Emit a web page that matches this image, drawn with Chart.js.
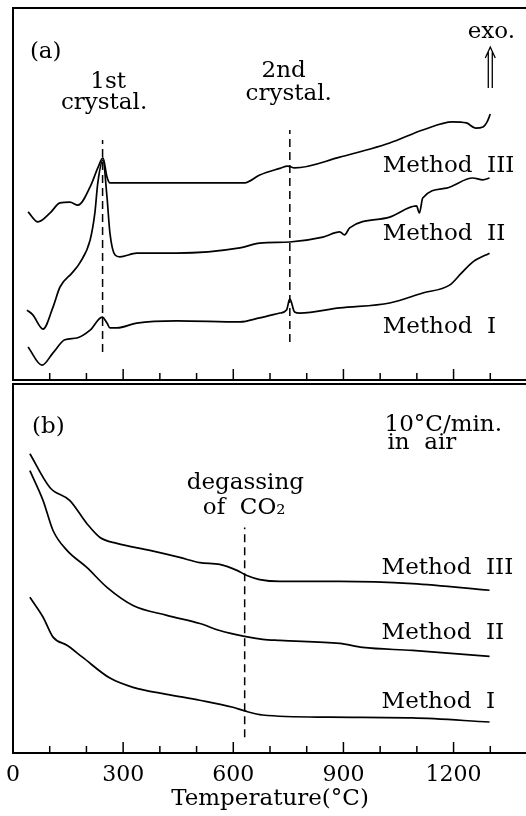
<!DOCTYPE html>
<html>
<head>
<meta charset="utf-8">
<script src="https://cdn.jsdelivr.net/npm/chart.js@4.4.0/dist/chart.umd.min.js"></script>
<style>
  html, body { margin: 0; padding: 0; background: #fff; overflow: hidden; }
  #panelA { position: absolute; left: 0; top: 0; width: 528px; height: 383px; }
  #panelB { position: absolute; left: 0; top: 383px; width: 528px; height: 433px; }
</style>
</head>
<body>
<div id="panelA"><canvas id="chartA"></canvas></div>
<div id="panelB"><canvas id="chartB"></canvas></div>
<script>
/* -------------------- DATA -------------------- */
// x axis (temperature, °C)
const tempMin = 0;
const tempMax = 1400;
const tempTicks = [0, 300, 600, 900, 1200];

// (a) DTA curves, arbitrary units
const dtaTemp3 = [41, 68, 101, 128, 155, 177, 210, 231, 245, 256, 264, 446, 631, 672, 727, 748, 767, 890, 1026, 1116, 1197, 1235, 1260, 1280, 1292, 1300];
const dtaMethod3 = [45.2, 42.5, 44.9, 47.6, 47.8, 47.0, 51.9, 57.0, 59.7, 54.6, 53.0, 53.0, 53.0, 55.1, 56.9, 57.5, 57.0, 59.9, 63.7, 67.2, 69.4, 69.1, 67.7, 68.0, 69.5, 71.5];

const dtaTemp2 = [38, 54, 82, 109, 128, 161, 182, 210, 223, 231, 245, 256, 264, 278, 291, 337, 446, 618, 672, 754, 844, 890, 903, 917, 1026, 1099, 1107, 1116, 1181, 1252, 1280, 1298];
const dtaMethod2 = [18.8, 17.5, 13.7, 19.6, 25.0, 28.8, 31.5, 37.6, 44.9, 53.0, 59.1, 49.2, 39.5, 33.6, 33.1, 34.1, 34.1, 35.5, 36.8, 37.1, 38.4, 39.8, 39.0, 40.9, 43.8, 46.8, 44.9, 48.9, 51.6, 54.3, 53.8, 54.3];

const dtaTemp1 = [41, 79, 109, 141, 174, 210, 243, 256, 264, 283, 337, 446, 618, 672, 727, 745, 754, 767, 781, 890, 1026, 1116, 1189, 1222, 1252, 1298];
const dtaMethod1 = [8.9, 4.0, 7.3, 10.8, 11.3, 13.4, 16.9, 15.3, 14.0, 14.0, 15.3, 15.9, 15.6, 16.7, 18.0, 18.8, 21.8, 18.3, 18.0, 19.4, 20.7, 23.4, 25.5, 28.8, 31.7, 34.1];

// (b) TG curves, arbitrary units
const tgTemp3 = [46, 101, 155, 201, 237, 283, 373, 454, 509, 563, 610, 637, 672, 727, 890, 1088, 1298];
const tgMethod3 = [81.1, 71.9, 68.4, 62.2, 58.4, 56.8, 54.9, 53.0, 51.6, 51.1, 49.5, 48.1, 47.0, 46.5, 46.5, 45.9, 44.1];

const tgTemp2 = [46, 82, 109, 147, 201, 256, 327, 419, 509, 563, 631, 680, 727, 890, 952, 1088, 1298];
const tgMethod2 = [76.5, 68.4, 60.3, 54.9, 50.3, 44.9, 40.0, 37.3, 35.1, 33.2, 31.6, 30.8, 30.5, 29.7, 28.6, 27.8, 26.2];

const tgTemp1 = [46, 82, 109, 147, 190, 264, 327, 419, 509, 599, 631, 680, 863, 1088, 1298];
const tgMethod1 = [42.2, 36.8, 31.4, 29.2, 25.9, 20.3, 17.8, 15.9, 14.3, 12.4, 11.4, 10.3, 9.7, 9.5, 8.4];

// dashed marker lines
const crystTemps = [244, 754];
const crystFrom = [7.5, 10.2];
const crystTo = [64.5, 67.2];
const degasTemp = 631;
const degasFrom = 4.3;
const degasTo = 61.1;

/* -------------------- TEXT NOTES -------------------- */
const notesA = [
    { text: "(a)", t: 46, v: 86.6, align: "left" },
    { text: "1st", t: 259, v: 78.5, align: "center" },
    { text: "crystal.", t: 248, v: 72.8, align: "center" },
    { text: "2nd", t: 737, v: 81.5, align: "center" },
    { text: "crystal.", t: 751, v: 75.3, align: "center" },
    { text: "exo.", t: 1303, v: 91.9, align: "center" },
    { text: "Method  III", t: 1007, v: 55.9, align: "left" },
    { text: "Method  II", t: 1007, v: 37.6, align: "left" },
    { text: "Method  I", t: 1007, v: 12.6, align: "left" }
];
const notesB = [
    { text: "(b)", t: 52, v: 86.8, align: "left" },
    { text: "10°C/min.", t: 1012, v: 87.3, align: "left" },
    { text: "in  air", t: 1020, v: 82.4, align: "left" },
    { text: "degassing", t: 473, v: 71.6, align: "left" },
    { text: "of  CO₂", t: 517, v: 64.9, align: "left" },
    { text: "Method  III", t: 1004, v: 48.6, align: "left" },
    { text: "Method  II", t: 1004, v: 30.8, align: "left" },
    { text: "Method  I", t: 1004, v: 12.2, align: "left" }
];
const exoArrow = { t: 1300, from: 78.5, to: 89.5 };

const FONT = "'DejaVu Serif', serif";

/* -------------------- HELPERS -------------------- */
function serie(xs, ys) {
    return xs.map((x, i) => ({ x: x, y: ys[i] }));
}

function curve(xs, ys) {
    return {
        data: serie(xs, ys),
        borderColor: "#000",
        borderWidth: 1.7,
        pointRadius: 0,
        cubicInterpolationMode: "monotone",
        fill: false
    };
}

function dashed(t, a, b) {
    return {
        data: [{ x: t, y: a }, { x: t, y: b }],
        borderColor: "#000",
        borderWidth: 1.5,
        borderDash: [8, 5],
        pointRadius: 0,
        fill: false
    };
}

// frame + inward ticks every 100 °C, longer every 300 °C
const framePlugin = {
    id: "frame",
    afterDatasetsDraw(chart) {
        const { ctx, chartArea: a, scales: { x } } = chart;
        ctx.save();
        ctx.strokeStyle = "#000";
        ctx.lineWidth = 2;
        ctx.beginPath();
        ctx.moveTo(a.right + 2, a.top);
        ctx.lineTo(a.left, a.top);
        ctx.lineTo(a.left, a.bottom);
        ctx.lineTo(a.right + 2, a.bottom);
        ctx.stroke();
        ctx.lineWidth = 1.5;
        for (let t = tempMin + 100; t < tempMax; t += 100) {
            const px = x.getPixelForValue(t);
            const len = t % 300 === 0 ? 11 : 7;
            ctx.beginPath();
            ctx.moveTo(px, a.bottom);
            ctx.lineTo(px, a.bottom - len);
            ctx.stroke();
        }
        ctx.restore();
    }
};

function notesPlugin(notes, arrow) {
    return {
        id: "notes",
        afterDraw(chart) {
            const { ctx, scales: { x, y } } = chart;
            ctx.save();
            ctx.fillStyle = "#000";
            ctx.font = "23px " + FONT;
            ctx.textBaseline = "alphabetic";
            notes.forEach(n => {
                ctx.textAlign = n.align;
                ctx.fillText(n.text, x.getPixelForValue(n.t), y.getPixelForValue(n.v));
            });
            if (arrow) {
                const px = x.getPixelForValue(arrow.t);
                const top = y.getPixelForValue(arrow.to);
                const bot = y.getPixelForValue(arrow.from);
                ctx.strokeStyle = "#000";
                ctx.lineWidth = 1.3;
                ctx.beginPath();
                ctx.moveTo(px - 2, bot); ctx.lineTo(px - 2, top + 5);
                ctx.moveTo(px + 2, bot); ctx.lineTo(px + 2, top + 5);
                ctx.moveTo(px - 5, top + 11); ctx.lineTo(px, top); ctx.lineTo(px + 5, top + 11);
                ctx.stroke();
            }
            ctx.restore();
        }
    };
}

/* -------------------- CHARTS -------------------- */
function montarPainelA() {
    const ctx = document.getElementById("chartA");
    new Chart(ctx, {
        type: "line",
        data: {
            datasets: [
                curve(dtaTemp3, dtaMethod3),
                curve(dtaTemp2, dtaMethod2),
                curve(dtaTemp1, dtaMethod1),
                dashed(crystTemps[0], crystFrom[0], crystTo[0]),
                dashed(crystTemps[1], crystFrom[1], crystTo[1])
            ]
        },
        options: {
            responsive: true,
            maintainAspectRatio: false,
            devicePixelRatio: 1,
            animation: false,
            layout: { padding: { left: 13, top: 8, right: 1, bottom: 3 } },
            plugins: { legend: { display: false }, tooltip: { enabled: false } },
            scales: {
                x: { type: "linear", min: tempMin, max: tempMax, display: false },
                y: { min: 0, max: 100, display: false }
            }
        },
        plugins: [framePlugin, notesPlugin(notesA, exoArrow)]
    });
}

function montarPainelB() {
    const ctx = document.getElementById("chartB");
    new Chart(ctx, {
        type: "line",
        data: {
            datasets: [
                curve(tgTemp3, tgMethod3),
                curve(tgTemp2, tgMethod2),
                curve(tgTemp1, tgMethod1),
                dashed(degasTemp, degasFrom, degasTo)
            ]
        },
        options: {
            responsive: true,
            maintainAspectRatio: false,
            devicePixelRatio: 1,
            animation: false,
            layout: { padding: { left: 13, top: 1, right: 1, bottom: 0 } },
            plugins: { legend: { display: false }, tooltip: { enabled: false } },
            scales: {
                x: {
                    type: "linear",
                    min: tempMin,
                    max: tempMax,
                    afterFit(s) {
                        s.height = 63;
                        s.paddingLeft = 0;
                        s.paddingRight = 0;
                    },
                    afterBuildTicks(s) { s.ticks = tempTicks.map(v => ({ value: v })); },
                    grid: { display: false, drawTicks: false },
                    border: { display: false },
                    ticks: {
                        color: "#000",
                        font: { family: FONT, size: 22 },
                        padding: 9,
                        maxRotation: 0,
                        autoSkip: false,
                        callback: v => String(v)
                    },
                    title: {
                        display: true,
                        text: "Temperature(°C)",
                        color: "#000",
                        font: { family: FONT, size: 23 },
                        padding: { top: 0, bottom: 3 }
                    }
                },
                y: { min: 0, max: 100, display: false }
            }
        },
        plugins: [framePlugin, notesPlugin(notesB, null)]
    });
}

montarPainelA();
montarPainelB();
</script>
</body>
</html>
